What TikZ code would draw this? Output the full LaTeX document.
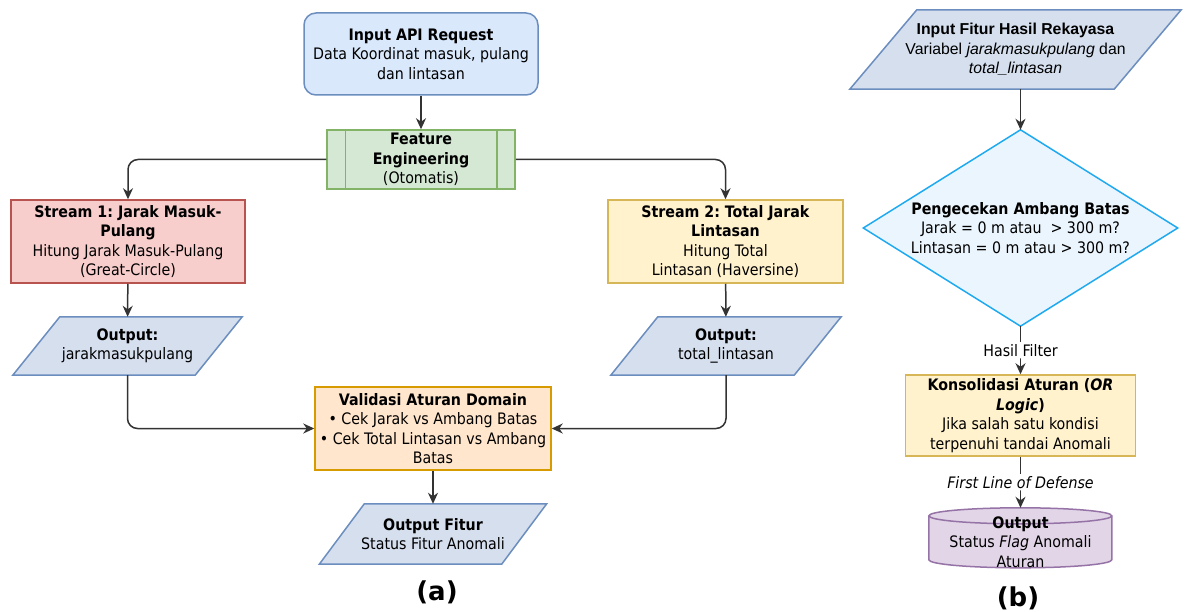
\documentclass[tikz,border=0pt]{standalone}
\usepackage{fontspec}
\setmainfont{DejaVu Sans Condensed}
\newfontfamily\arialfont{Liberation Sans}
\newfontfamily\labfont{DejaVu Sans}
\usetikzlibrary{arrows.meta,backgrounds,calc}
\frenchspacing
\definecolor{lnc}{HTML}{333333}
\definecolor{bluef}{HTML}{DAE8FC}\definecolor{blues}{HTML}{6C8EBF}
\definecolor{greenf}{HTML}{D5E8D4}\definecolor{greens}{HTML}{82B366}
\definecolor{redf}{HTML}{F8CECC}\definecolor{reds}{HTML}{B85450}
\definecolor{yelf}{HTML}{FFF2CC}\definecolor{yels}{HTML}{D6B656}
\definecolor{oraf}{HTML}{FFE6CC}\definecolor{oras}{HTML}{D79B00}
\definecolor{paraf}{HTML}{D5DFEE}
\definecolor{diaf}{HTML}{EBF5FD}\definecolor{dias}{HTML}{1EAAF1}
\definecolor{purf}{HTML}{E1D5E7}\definecolor{purs}{HTML}{9673A6}
\tikzset{
  txt/.style={align=center, font=\fontsize{15.8}{19.5}\selectfont, inner sep=0pt},
  boxed/.style={txt, draw, line width=1.5pt},
  ghost/.style={txt},
  shp/.style={line width=1.5pt},
  arr/.style={draw=lnc, line width=1.5pt, -{Stealth[length=11pt,width=10pt,inset=3.5pt]}, rounded corners=10pt},
  lbl/.style={txt, fill=white, inner sep=2pt},
  panel/.style={font=\labfont\fontsize{26}{30}\selectfont\bfseries, inner sep=0pt}
}
\newcommand{\paragram}[4]{% name, slant, fill, stroke
  \fill[#3] ($(#1.south west)$) -- ($(#1.north west)+(#2,0)$) -- (#1.north east) -- ($(#1.south east)-(#2,0)$) -- cycle;
  \draw[shp,#4,line join=miter] ($(#1.south west)$) -- ($(#1.north west)+(#2,0)$) -- (#1.north east) -- ($(#1.south east)-(#2,0)$) -- cycle;}
\begin{document}
\begin{tikzpicture}[x=1pt,y=-1pt]
\useasboundingbox (0,0) rectangle (1185,612);
% ---------- (a) ----------
\node[boxed, draw=blues, fill=bluef, rounded corners=12pt, minimum width=234, minimum height=82] (api) at (421,54)
  {\textbf{Input API Request}\\Data Koordinat masuk, pulang\\dan lintasan};
\node[boxed, draw=greens, fill=greenf, minimum width=188, minimum height=59] (fe) at (421,159.5)
  {\textbf{Feature}\\\textbf{Engineering}\\(Otomatis)};
\draw[shp, greens] ($(fe.north west)+(19,0)$) -- ($(fe.south west)+(19,0)$);
\draw[shp, greens] ($(fe.north east)-(19,0)$) -- ($(fe.south east)-(19,0)$);
\node[boxed, draw=reds, fill=redf, minimum width=234, minimum height=83] (s1) at (128,241.5)
  {\textbf{Stream 1: Jarak Masuk-}\\\textbf{Pulang}\\Hitung Jarak Masuk-Pulang\\(Great-Circle)};
\node[boxed, draw=yels, fill=yelf, minimum width=235, minimum height=83] (s2) at (725.5,241.5)
  {\textbf{Stream 2: Total Jarak}\\\textbf{Lintasan}\\Hitung Total\\Lintasan (Haversine)};
\node[ghost, minimum width=229, minimum height=58] (o1) at (127.5,346)
  {\textbf{Output:}\\jarakmasukpulang};
\node[ghost, minimum width=230, minimum height=58] (o2) at (726,346)
  {\textbf{Output:}\\total\_lintasan};
\node[boxed, draw=oras, fill=oraf, minimum width=236, minimum height=83] (val) at (433,428.5)
  {\textbf{Validasi Aturan Domain}\\• Cek Jarak vs Ambang Batas\\• Cek Total Lintasan vs Ambang\\Batas};
\node[ghost, minimum width=227, minimum height=60] (of) at (433,534)
  {\textbf{Output Fitur}\\Status Fitur Anomali};
\node[panel] (la) at (437,592) {(a)};
% ---------- (b) ----------
\node[txt, font=\arialfont\fontsize{15.8}{19.5}\selectfont, minimum width=331, minimum height=79] (inp) at (1015.5,49.5)
  {\textbf{Input Fitur Hasil Rekayasa}\\Variabel \textit{jarakmasukpulang} dan\\\textit{total\_lintasan}};
\node[ghost, minimum width=314, minimum height=196] (dia) at (1020.5,228)
  {\textbf{Pengecekan Ambang Batas}\\Jarak = 0 m atau\ \ > 300 m?\\Lintasan = 0 m atau > 300 m?};
\node[boxed, draw=yels, fill=yelf, minimum width=230, minimum height=81] (kon) at (1020.5,415.5)
  {\textbf{Konsolidasi Aturan (\textit{OR}}\\\textbf{\textit{Logic})}\\Jika salah satu kondisi\\terpenuhi tandai Anomali};
\node[ghost, minimum width=183, minimum height=60] (cyl) at (1020.5,538) {};
\node[txt] (cylt) at (1020.5,542) {\textbf{Output}\\Status \textit{Flag} Anomali\\Aturan};
\node[panel] (lb) at (1018,598) {(b)};
% ---------- backgrounds ----------
\begin{pgfonlayer}{background}
  \paragram{o1}{47}{paraf}{blues}
  \paragram{o2}{47}{paraf}{blues}
  \paragram{of}{45}{paraf}{blues}
  \paragram{inp}{67}{paraf}{blues}
  \draw[shp, draw=dias, fill=diaf, line join=miter] (dia.north) -- (dia.east) -- (dia.south) -- (dia.west) -- cycle;
  \draw[shp, draw=purs, fill=purf] (cyl.north west) ++(0,8) -- ++(0,44)
     arc[start angle=180, end angle=0, x radius=91.5, y radius=8] -- ++(0,-44)
     arc[start angle=0, end angle=-180, x radius=91.5, y radius=8] -- cycle;
  \draw[shp, draw=purs] (cyl.north west) ++(0,8) arc[start angle=180, end angle=0, x radius=91.5, y radius=8];
\end{pgfonlayer}
% ---------- connectors ----------
\draw[arr] (api) -- (fe);
\draw[arr] (fe.west) -| (s1.north);
\draw[arr] (fe.east) -| (s2.north);
\draw[arr] (s1) -- (o1);
\draw[arr] (s2) -- (o2);
\draw[arr] (o1.south) |- (val.west);
\draw[arr] (o2.south) |- (val.east);
\draw[arr] (val) -- (of);
\draw[arr] (dia.north |- inp.south) -- (dia.north);
\draw[arr] (dia.south) -- node[lbl] (hf) {Hasil Filter} (kon.north);
\draw[arr] (kon.south) -- node[lbl, font=\fontsize{15.8}{19.5}\selectfont\itshape] (fl) {First Line of Defense} (cyl.north);
\end{tikzpicture}
\end{document}
